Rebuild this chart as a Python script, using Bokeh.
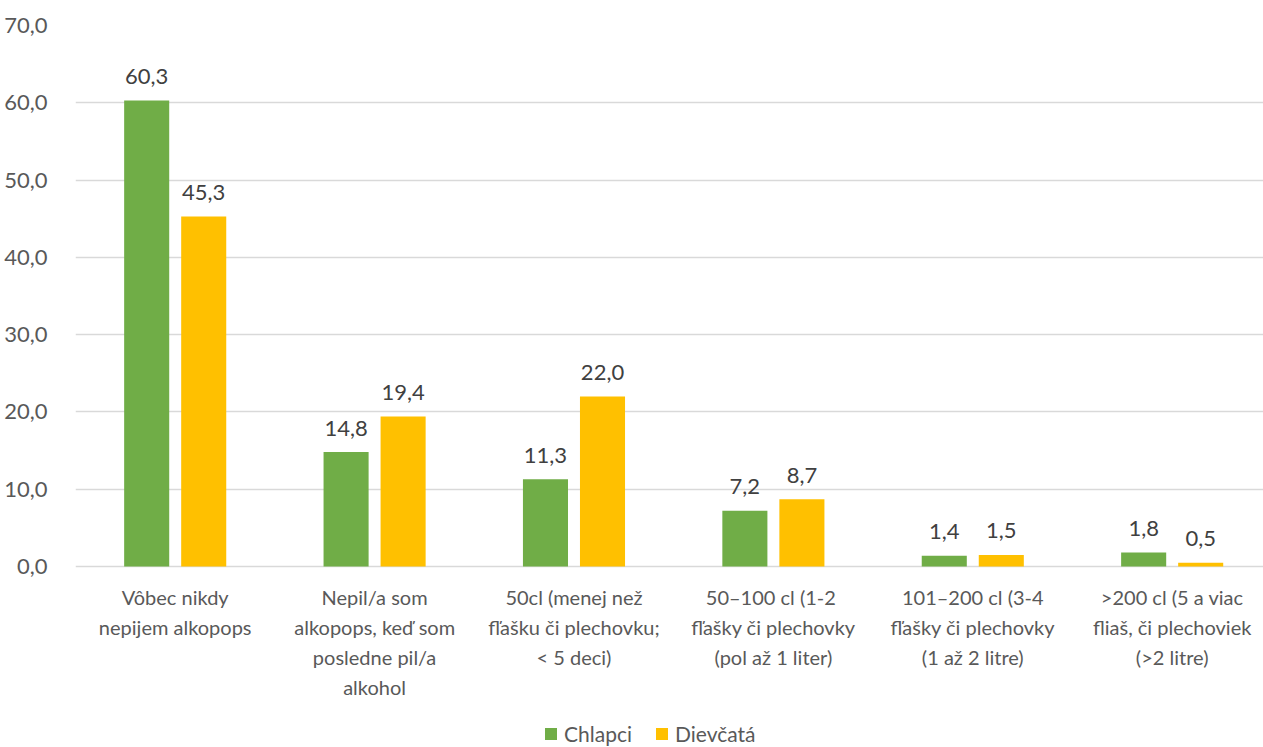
from bokeh.plotting import figure
from bokeh.models import ColumnDataSource, FixedTicker, Legend, LegendItem
from bokeh.embed import file_html
from bokeh.resources import INLINE

categories = [
    "Vôbec nikdy\nnepijem alkopops",
    "Nepil/a som\nalkopops, keď som\nposledne pil/a\nalkohol",
    "50cl (menej než\nfľašku či plechovku;\n< 5 deci)",
    "50–100 cl  (1-2\nfľašky či plechovky\n(pol až 1 liter)",
    "101–200 cl (3-4\nfľašky či plechovky\n(1 až 2 litre)",
    ">200 cl (5 a viac\nfliaš, či plechoviek\n(>2 litre)",
]
chlapci = [60.3, 14.8, 11.3, 7.2, 1.4, 1.8]
dievcata = [45.3, 19.4, 22.0, 8.7, 1.5, 0.5]
series_names = ["Chlapci", "Dievčatá"]
y_ticks = [0, 10, 20, 30, 40, 50, 60, 70]
y_tick_labels = ["0,0", "10,0", "20,0", "30,0", "40,0", "50,0", "60,0", "70,0"]

GREEN = "#70AD47"
GOLD = "#FFC000"
FONT = "Lato"
OFF = 0.143
BW = 0.226

# layout (pixels): plotting area 541px tall for 0..70, 181px of room below zero
PLOT_PX = 541
BELOW_PX = 181
Y_MAX = 70
y_min = -BELOW_PX / PLOT_PX * Y_MAX

idx = list(range(len(categories)))
src = ColumnDataSource(dict(
    x=idx,
    xc=[i - OFF for i in idx],
    xd=[i + OFF for i in idx],
    c=chlapci,
    d=dievcata,
    cl=[f"{v:.1f}".replace(".", ",") for v in chlapci],
    dl=[f"{v:.1f}".replace(".", ",") for v in dievcata],
    cat=categories,
    zero=[0] * len(categories),
))

p = figure(frame_width=1188, frame_height=PLOT_PX + BELOW_PX, output_backend="svg",
           toolbar_location=None,
           x_range=(-0.5, 5.458), y_range=(y_min, Y_MAX),
           min_border_left=75, min_border_right=0, min_border_top=25, min_border_bottom=0)
p.outline_line_color = None
p.background_fill_color = "white"
p.border_fill_color = "white"

r1 = p.vbar(x="xc", top="c", width=BW, source=src, fill_color=GREEN, line_color=None)
r2 = p.vbar(x="xd", top="d", width=BW, source=src, fill_color=GOLD, line_color=None)

for xcol, ycol, lcol in [("xc", "c", "cl"), ("xd", "d", "dl")]:
    p.text(x=xcol, y=ycol, text=lcol, source=src, text_align="center",
           text_baseline="alphabetic", y_offset=-24, text_font_size="22px",
           text_color="#404040", text_font={"value": FONT})

# category labels below the zero line
p.text(x="x", y="zero", text="cat", source=src, text_align="center",
       text_baseline="top", y_offset=18, text_font_size="20px",
       text_line_height=1.25, text_color="#595959", text_font={"value": FONT})

# y axis
p.yaxis.ticker = FixedTicker(ticks=y_ticks)
p.yaxis.major_label_overrides = {t: l for t, l in zip(y_ticks, y_tick_labels)}
p.yaxis.axis_line_color = None
p.yaxis.major_tick_line_color = None
p.yaxis.minor_tick_line_color = None
p.yaxis.major_label_text_font = FONT
p.yaxis.major_label_text_font_size = "22px"
p.yaxis.major_label_text_color = "#595959"
p.yaxis.major_label_standoff = 22
p.ygrid.grid_line_color = "#D9D9D9"
p.ygrid.grid_line_width = 1.5
p.ygrid.ticker = FixedTicker(ticks=y_ticks)

# no separate x axis: the zero grid line acts as the axis line
p.xaxis.visible = False
p.xgrid.grid_line_color = None

legend = Legend(items=[LegendItem(label=series_names[0], renderers=[r1]),
                       LegendItem(label=series_names[1], renderers=[r2])],
                orientation="horizontal", location=(468, 1),
                label_text_font=FONT, label_text_font_size="21px",
                label_text_color="#595959", glyph_width=15, glyph_height=15,
                label_height=20, spacing=22, label_standoff=6, border_line_color=None,
                padding=0, margin=0, background_fill_alpha=0)
p.add_layout(legend, "center")

open("out.html", "w").write(file_html(p, INLINE))
